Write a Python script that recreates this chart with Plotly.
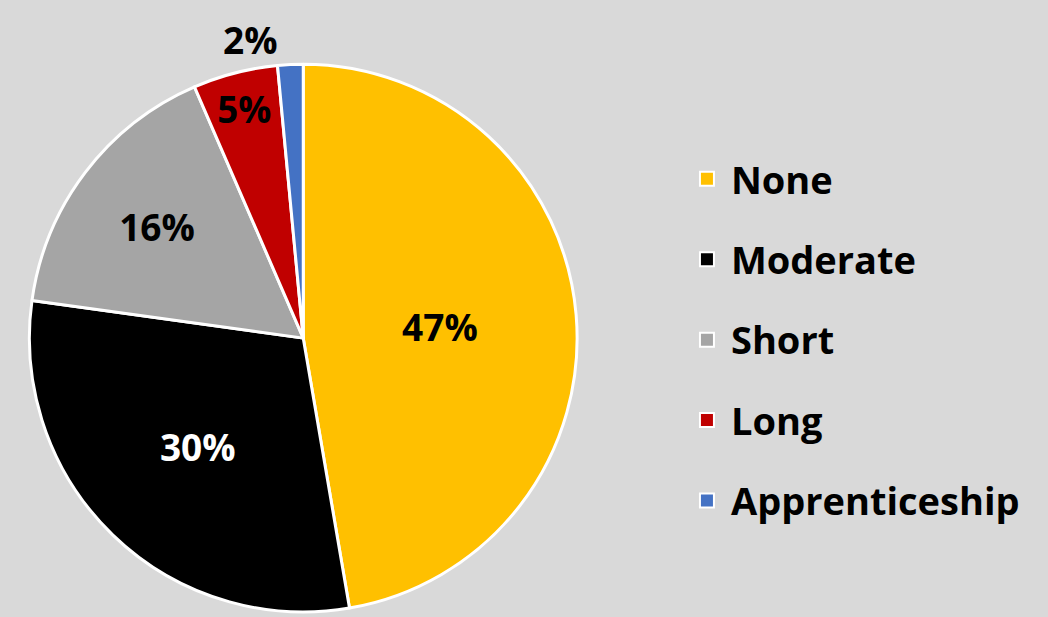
import plotly.graph_objects as go

# slice data
categories = ["None", "Moderate", "Short", "Long", "Apprenticeship"]
shares = [47.3, 29.9, 16.3, 5.0, 1.5]
colors = ["#FFC000", "#000000", "#A5A5A5", "#C00000", "#4472C4"]
label_pos = ["inside", "inside", "inside", "inside", "outside"]
label_colors = ["#000000", "#FFFFFF", "#000000", "#000000", "#000000"]

font_name = "Open Sans"

fig = go.Figure()

fig.add_trace(go.Pie(
    labels=categories,
    values=shares,
    sort=False,
    direction="clockwise",
    rotation=0,
    marker=dict(colors=colors, line=dict(color="white", width=3)),
    texttemplate="%{percent:.0%}",
    textposition=label_pos,
    insidetextorientation="horizontal",
    textfont=dict(family=font_name, size=37, color=label_colors, weight="bold"),
    domain=dict(x=[0.015, 0.561], y=[0.0, 0.895]),
    showlegend=False,
    hoverinfo="label+percent",
))

# legend entries with wider spacing than the pie legend allows
for name, col in zip(categories, colors):
    fig.add_trace(go.Scatter(
        x=[None], y=[None], mode="markers", name=name, legendgroup=name,
        marker=dict(symbol="square", size=14, color=col, line=dict(color="white", width=2)),
    ))

fig.update_layout(
    width=1048, height=617,
    margin=dict(l=0, r=0, t=0, b=0),
    paper_bgcolor="#D9D9D9",
    plot_bgcolor="#D9D9D9",
    xaxis=dict(visible=False),
    yaxis=dict(visible=False),
    legend=dict(
        x=0.651, y=0.445, xanchor="left", yanchor="middle",
        font=dict(family=font_name, size=38, color="#000000", weight="bold"),
        traceorder="grouped", tracegroupgap=28, itemwidth=38,
        bgcolor="rgba(0,0,0,0)",
    ),
)

fig.write_html("out.html", config={"displayModeBar": False},
               post_script="document.body.style.margin='0px';")
